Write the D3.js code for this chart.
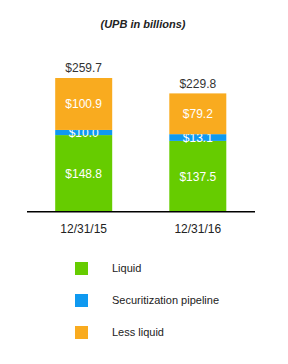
<!DOCTYPE html>
<html>
<head>
<meta charset="utf-8">
<script src="https://cdn.jsdelivr.net/npm/d3@7"></script>
<style>
  body { margin: 0; background: #fff; }
  svg { font-family: "Liberation Sans", Arial, sans-serif; }
</style>
</head>
<body>
<div id="chart"></div>
<script>
'use strict';

const dates = ['12/31/15', '12/31/16'];
const seriesNames = ['Liquid', 'Securitization pipeline', 'Less liquid'];
const liquid = [148.8, 137.5];
const pipeline = [10.0, 13.1];
const lessLiquid = [100.9, 79.2];
const totals = [259.7, 229.8];
const colors = ['#66cc00', '#0f99f0', '#f9ab1f'];

const width = 288;
const height = 364;
const baseline = 211.7;
const topY = 78;

const rows = dates.map(function (d, i) {
  return { date: d, Liquid: liquid[i], 'Securitization pipeline': pipeline[i], 'Less liquid': lessLiquid[i], total: totals[i] };
});

const stack = d3.stack().keys(seriesNames);
const stacked = stack(rows);

const xScale = d3.scaleBand()
  .domain(dates)
  .range([27, 255])
  .paddingInner(0.99)
  .paddingOuter(0.5);

// fixed bar centers from the picture: 83.7 and 197.8
const barWidth = 57;
const xCenter = d3.scalePoint().domain(dates).range([83.7, 197.8]);

const yScale = d3.scaleLinear()
  .domain([0, totals[0]])
  .range([baseline, topY]);

const colorScale = d3.scaleOrdinal().domain(seriesNames).range(colors);

const svg = d3.select('#chart').append('svg')
  .attr('width', width)
  .attr('height', height);

svg.append('text')
  .attr('x', 143)
  .attr('y', 28)
  .attr('text-anchor', 'middle')
  .style('font-size', '11px')
  .style('font-weight', 'bold')
  .style('font-style', 'italic')
  .style('fill', '#222')
  .text('(UPB in billions)');

const layers = svg.selectAll('g.layer')
  .data(stacked)
  .enter().append('g')
  .attr('class', 'layer')
  .style('fill', function (d) { return colorScale(d.key); });

layers.selectAll('rect')
  .data(function (d) { return d; })
  .enter().append('rect')
  .attr('x', function (d) { return xCenter(d.data.date) - barWidth / 2; })
  .attr('y', function (d) { return yScale(d[1]); })
  .attr('width', barWidth)
  .attr('height', function (d) { return yScale(d[0]) - yScale(d[1]); });

layers.selectAll('text')
  .data(function (d) { return d; })
  .enter().append('text')
  .attr('x', function (d) { return xCenter(d.data.date); })
  .attr('y', function (d) { return (yScale(d[0]) + yScale(d[1])) / 2; })
  .attr('dy', '0.36em')
  .attr('text-anchor', 'middle')
  .style('font-size', '12px')
  .style('fill', '#fff')
  .text(function (d) { return '$' + (d[1] - d[0]).toFixed(1); });

svg.selectAll('text.total')
  .data(rows)
  .enter().append('text')
  .attr('class', 'total')
  .attr('x', function (d) { return xCenter(d.date); })
  .attr('y', function (d) { return yScale(d.total) - 10; })
  .attr('dy', '0.36em')
  .attr('text-anchor', 'middle')
  .style('font-size', '12px')
  .style('fill', '#333')
  .text(function (d) { return '$' + d.total.toFixed(1); });

svg.append('line')
  .attr('x1', 27)
  .attr('x2', 255)
  .attr('y1', baseline)
  .attr('y2', baseline)
  .style('stroke', '#000')
  .style('stroke-width', 1.5);

svg.selectAll('text.date')
  .data(dates)
  .enter().append('text')
  .attr('class', 'date')
  .attr('x', function (d) { return xCenter(d); })
  .attr('y', 229)
  .attr('dy', '0.36em')
  .attr('text-anchor', 'middle')
  .style('font-size', '12px')
  .style('fill', '#222')
  .text(function (d) { return d; });

const legend = svg.selectAll('g.legend')
  .data(seriesNames)
  .enter().append('g')
  .attr('class', 'legend')
  .attr('transform', function (d, i) { return 'translate(75,' + (262 + i * 32) + ')'; });

legend.append('rect')
  .attr('width', 13)
  .attr('height', 13)
  .style('fill', function (d) { return colorScale(d); });

legend.append('text')
  .attr('x', 37)
  .attr('y', 6.5)
  .attr('dy', '0.36em')
  .style('font-size', '11px')
  .style('fill', '#222')
  .text(function (d) { return d; });
</script>
</body>
</html>
